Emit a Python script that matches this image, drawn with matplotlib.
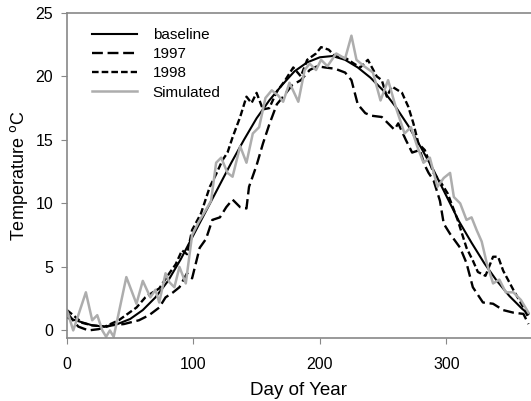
import numpy as np
import matplotlib
matplotlib.use("Agg")
import matplotlib.pyplot as plt

plt.rcParams['font.family'] = ['Liberation Sans', 'DejaVu Sans']

# baseline (smooth mean curve)
base_day = [0, 10, 20, 30, 40, 50, 60, 70, 80, 90, 100, 110, 120, 130, 140, 150, 160, 170,
            180, 190, 200, 210, 220, 230, 240, 250, 260, 270, 280, 290, 300, 310, 320, 330,
            340, 350, 360, 365]
base_temp = [1.0, 0.7, 0.4, 0.3, 0.5, 0.9, 1.6, 2.6, 3.9, 5.6, 7.5, 9.4, 11.3, 13.2, 15.0, 16.7,
             18.1, 19.3, 20.4, 21.1, 21.5, 21.6, 21.3, 20.7, 19.9, 18.9, 17.6, 16.1, 14.4, 12.6,
             10.6, 8.6, 6.9, 5.3, 3.9, 2.7, 1.7, 1.3]

# 1997 (cool year)
d97 = [0, 9, 17, 25, 35, 45, 57, 65, 73, 78, 84, 89, 95, 99, 105, 110, 115, 121, 126, 131, 137,
       142, 144, 150, 155, 160, 166, 171, 178, 185, 192, 198, 204, 212, 220, 225, 230, 236, 241,
       249, 254, 259, 262, 268, 273, 279, 283, 286, 290, 295, 298, 303, 311, 316, 321, 329, 337,
       345, 353, 361, 365]
t97 = [1.4, 0.3, 0.0, 0.1, 0.4, 0.5, 0.8, 1.2, 1.8, 2.6, 3.0, 3.4, 4.5, 4.1, 6.5, 7.2, 8.7, 8.9,
       9.7, 10.3, 9.7, 9.6, 11.3, 13.0, 14.7, 16.2, 17.8, 18.4, 19.3, 19.7, 20.5, 20.8, 20.7,
       20.6, 20.3, 19.7, 17.8, 17.1, 16.9, 16.8, 16.3, 15.8, 16.3, 15.0, 14.0, 14.2, 13.0, 12.4,
       11.8, 10.2, 8.4, 7.6, 6.5, 5.3, 3.4, 2.2, 2.1, 1.6, 1.4, 1.3, 0.5]

# 1998 (warm year)
d98 = [0, 5, 12, 20, 30, 41, 48, 55, 62, 68, 73, 81, 86, 91, 95, 99, 106, 113, 118, 123, 127,
       131, 137, 142, 146, 150, 155, 160, 166, 172, 179, 185, 190, 197, 201, 207, 212, 221, 227,
       232, 238, 245, 249, 253, 257, 265, 270, 274, 278, 283, 290, 296, 301, 309, 316, 321, 325,
       331, 337, 341, 345, 353, 361, 365]
t98 = [1.6, 1.2, 0.6, 0.4, 0.3, 0.8, 1.3, 1.8, 2.6, 3.0, 3.3, 4.5, 5.2, 6.3, 6.0, 7.9, 9.2, 11.3,
       12.3, 13.4, 14.0, 15.2, 16.8, 18.4, 17.9, 18.7, 17.4, 17.5, 18.8, 19.6, 20.7, 20.0, 21.3,
       21.8, 22.3, 22.1, 21.6, 21.4, 21.0, 20.7, 21.3, 20.0, 19.7, 18.4, 19.2, 18.7, 17.6, 16.3,
       14.7, 14.2, 12.4, 11.6, 10.8, 8.7, 6.5, 5.5, 4.6, 4.3, 5.8, 5.8, 4.7, 3.2, 1.8, 1.0]

# simulated
sim_day = [0, 5, 15, 20, 24, 28, 31, 34, 37, 47, 55, 60, 66, 70, 73, 78, 81, 85, 89, 94, 99,
           104, 110, 114, 118, 122, 127, 131, 137, 142, 147, 152, 157, 162, 167, 171, 176, 183,
           188, 192, 197, 201, 206, 213, 220, 225, 229, 235, 242, 248, 254, 260, 267, 272, 277,
           282, 287, 293, 298, 303, 306, 311, 316, 320, 324, 328, 332, 337, 342, 347, 353, 359, 365]
sim_temp = [1.6, 0.0, 3.0, 0.8, 1.2, 0.0, -0.5, 0.0, -0.5, 4.2, 2.1, 3.9, 2.6, 3.2, 2.2, 4.5,
            3.8, 3.4, 5.0, 3.7, 7.5, 8.5, 9.5, 10.2, 13.2, 13.6, 12.4, 12.1, 14.5, 13.2, 15.5,
            16.0, 18.3, 18.9, 18.5, 18.0, 19.5, 18.0, 20.5, 21.0, 20.5, 21.3, 20.8, 21.8, 21.4,
            23.2, 21.3, 20.8, 20.3, 18.1, 19.7, 17.6, 15.5, 16.0, 14.5, 13.2, 13.6, 11.3, 12.0,
            12.4, 10.5, 10.0, 8.7, 8.9, 7.9, 7.0, 5.3, 3.7, 4.0, 3.0, 3.0, 2.4, 1.4]

fig = plt.figure(figsize=(5.31, 4.01), dpi=100)
ax = fig.add_axes([0.126, 0.157, 0.874, 0.811])

ax.plot(base_day, base_temp, color='black', lw=1.5, label='baseline')
ax.plot(d97, t97, color='black', lw=1.7, dashes=(4.6, 2.0), label='1997')
ax.plot(d98, t98, color='black', lw=1.7, dashes=(2.8, 1.3), label='1998')
ax.plot(sim_day, sim_temp, color='#adadad', lw=1.8, label='Simulated')

ax.set_xlim(0, 367)
ax.set_ylim(-0.6, 25)
ax.set_xticks([0, 100, 200, 300])
ax.set_yticks([0, 5, 10, 15, 20, 25])
ax.tick_params(labelsize=11.5, length=4, color='#888888', direction='out')
ax.tick_params(axis='x', pad=10)
ax.tick_params(axis='y', pad=6)

for s in ['left', 'bottom', 'top']:
    ax.spines[s].set_color('#888888')
    ax.spines[s].set_linewidth(1.2)
ax.spines['right'].set_visible(False)

ax.set_xlabel('Day of Year', fontsize=13.5, labelpad=7)
ax.set_ylabel('Temperature $^{\\rm o}$C', fontsize=13, labelpad=4)

ax.legend(loc='upper left', frameon=False, fontsize=11, handlelength=3.0,
          handletextpad=1.0, labelspacing=0.33, borderaxespad=0.3,
          bbox_to_anchor=(0.03, 0.985))

fig.savefig('out.png', dpi=100)
